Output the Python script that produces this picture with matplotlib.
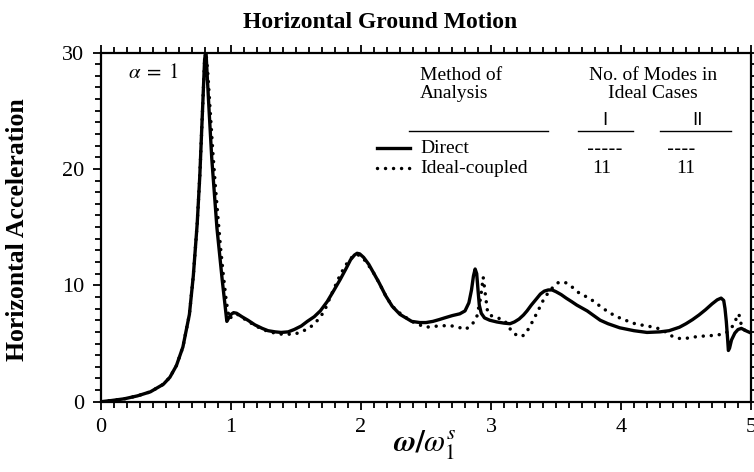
import matplotlib
matplotlib.use("Agg")
import matplotlib.pyplot as plt
from matplotlib.lines import Line2D
from matplotlib.ticker import MultipleLocator

plt.rcParams['font.family'] = ['Liberation Serif', 'DejaVu Serif']
plt.rcParams['mathtext.fontset'] = 'stix'

# Frequency ratio and acceleration response, direct analysis
freq_direct = [0.0, 0.08, 0.18, 0.28, 0.38, 0.48, 0.53, 0.58, 0.63, 0.68, 0.71, 0.74,
               0.76, 0.78, 0.797, 0.807, 0.817, 0.832, 0.852, 0.872, 0.892, 0.913,
               0.933, 0.953, 0.968, 0.983, 1.0, 1.02, 1.043, 1.084, 1.13, 1.184,
               1.24, 1.285, 1.34, 1.385, 1.44, 1.486, 1.54, 1.587, 1.64, 1.687,
               1.74, 1.788, 1.84, 1.888, 1.92, 1.95, 1.97, 1.99, 2.02, 2.06, 2.09,
               2.14, 2.19, 2.24, 2.30, 2.39, 2.452, 2.5, 2.553, 2.6, 2.643, 2.703,
               2.76, 2.80, 2.83, 2.85, 2.865, 2.878, 2.89, 2.90, 2.91, 2.925, 2.95,
               2.99, 3.045, 3.1, 3.146, 3.18, 3.216, 3.25, 3.277, 3.31, 3.347, 3.38,
               3.41, 3.44, 3.47, 3.50, 3.54, 3.578, 3.62, 3.66, 3.70, 3.74, 3.79,
               3.84, 3.9, 3.99, 4.10, 4.20, 4.30, 4.37, 4.45, 4.5, 4.55, 4.6, 4.65,
               4.7, 4.74, 4.77, 4.79, 4.80, 4.81, 4.82, 4.826, 4.835, 4.85, 4.876,
               4.9, 4.926, 4.96, 5.0]
acc_direct = [0.0, 0.1, 0.25, 0.5, 0.85, 1.5, 2.1, 3.1, 4.7, 7.5, 10.8, 15.3,
              19.4, 24.8, 29.4, 30.2, 28.0, 24.9, 20.9, 17.9, 14.9, 12.6,
              10.4, 8.4, 6.9, 7.2, 7.5, 7.65, 7.6, 7.3, 7.0, 6.6,
              6.3, 6.1, 6.0, 5.95, 6.0, 6.2, 6.5, 6.9, 7.3, 7.8,
              8.6, 9.5, 10.5, 11.5, 12.2, 12.6, 12.75, 12.7, 12.4, 11.8, 11.2,
              10.2, 9.1, 8.2, 7.5, 6.9, 6.8, 6.8, 6.9, 7.05, 7.2, 7.4,
              7.55, 7.8, 8.5, 9.6, 10.8, 11.4, 11.0, 9.6, 8.3, 7.6, 7.2,
              7.0, 6.85, 6.75, 6.7, 6.85, 7.1, 7.45, 7.8, 8.3, 8.8, 9.25,
              9.5, 9.6, 9.6, 9.45, 9.2, 8.9, 8.6, 8.3, 8.05, 7.8, 7.4,
              7.0, 6.7, 6.35, 6.1, 5.95, 6.0, 6.1, 6.4, 6.7, 7.05, 7.45, 7.9,
              8.4, 8.75, 8.9, 8.7, 8.0, 6.9, 5.4, 4.4, 4.6, 5.3, 5.9,
              6.2, 6.3, 6.1, 5.9]

# Ideal-coupled analysis
freq_ideal = [0.0, 0.08, 0.18, 0.28, 0.38, 0.48, 0.53, 0.58, 0.63, 0.68, 0.71, 0.74,
              0.76, 0.78, 0.797, 0.807, 0.82, 0.84, 0.86, 0.88, 0.90, 0.92, 0.94,
              0.96, 0.975, 0.99, 1.01, 1.05, 1.09, 1.19, 1.29, 1.39, 1.49, 1.56,
              1.61, 1.65, 1.69, 1.73, 1.76, 1.80, 1.84, 1.88, 1.92, 1.95, 1.98,
              2.01, 2.04, 2.09, 2.14, 2.19, 2.24, 2.30, 2.35, 2.39, 2.45, 2.50,
              2.59, 2.68, 2.75, 2.80, 2.85, 2.89, 2.92, 2.94, 2.96, 2.975, 3.0,
              3.04, 3.10, 3.13, 3.16, 3.20, 3.23, 3.26, 3.28, 3.32, 3.37, 3.41,
              3.45, 3.49, 3.52, 3.55, 3.58, 3.63, 3.67, 3.72, 3.78, 3.84, 3.89,
              3.95, 4.01, 4.07, 4.12, 4.18, 4.25, 4.30, 4.35, 4.39, 4.44, 4.48,
              4.53, 4.59, 4.65, 4.72, 4.78, 4.82, 4.85, 4.875, 4.895, 4.905,
              4.915, 4.925, 4.955, 5.0]
acc_ideal = [0.0, 0.1, 0.25, 0.5, 0.85, 1.5, 2.1, 3.1, 4.7, 7.5, 10.8, 15.3,
             19.4, 24.8, 29.4, 30.0, 28.5, 25.0, 21.5, 18.5, 15.8, 13.2, 11.0,
             9.0, 7.8, 7.1, 7.4, 7.5, 7.2, 6.5, 6.0, 5.8, 5.8, 6.1,
             6.4, 6.8, 7.3, 8.1, 8.9, 9.9, 10.9, 11.7, 12.3, 12.6, 12.6,
             12.4, 12.0, 11.2, 10.2, 9.1, 8.2, 7.6, 7.2, 6.9, 6.6, 6.4,
             6.5, 6.55, 6.4, 6.2, 6.55, 7.25, 8.9, 10.7, 8.9, 7.6, 7.4,
             7.25, 7.0, 6.6, 6.0, 5.7, 5.6, 5.75, 6.1, 6.9, 8.0, 8.9,
             9.5, 10.0, 10.25, 10.3, 10.2, 9.8, 9.4, 9.1, 8.7, 8.2, 7.8,
             7.4, 7.1, 6.85, 6.65, 6.55, 6.4, 6.25, 5.95, 5.65, 5.45, 5.4,
             5.5, 5.6, 5.65, 5.7, 5.8, 6.0, 6.35, 6.8, 7.4, 7.55,
             7.2, 6.6, 6.1, 5.9]

x_ticks = [0, 1, 2, 3, 4, 5]
y_ticks = [0, 10, 20, 30]

DOTTED = (0, (0.01, 2.3))

fig = plt.figure(figsize=(7.54, 4.72), dpi=100)
ax = fig.add_axes([101 / 754, 1 - 401.7 / 472, 650 / 754, 349.2 / 472])

ax.plot(freq_direct, acc_direct, color='black', lw=2.4, solid_joinstyle='round',
        solid_capstyle='round', zorder=3)
ax.plot(freq_ideal, acc_ideal, color='black', lw=2.5, linestyle=DOTTED,
        dash_capstyle='round', zorder=2)

ax.set_xlim(0, 5)
ax.set_ylim(0, 30)
ax.set_xticks(x_ticks)
ax.set_yticks(y_ticks)
ax.xaxis.set_minor_locator(MultipleLocator(0.1))
ax.yaxis.set_minor_locator(MultipleLocator(1))
ax.tick_params(which='both', direction='out', top=True, right=True, width=1.3,
               labelsize=16, pad=6)
ax.tick_params(which='major', length=6)
ax.tick_params(which='minor', length=4)
for s in ax.spines.values():
    s.set_linewidth(1.6)

fig.text(380 / 754, 1 - 22 / 472, 'Horizontal Ground Motion', ha='center', va='center',
         fontsize=17, fontweight='bold')
fig.text(18 / 754, 1 - 230 / 472, 'Horizontal Acceleration', ha='center', va='center',
         rotation=90, fontsize=18.5, fontweight='bold')
fig.text(425 / 754, 1 - 445 / 472, r'$\boldsymbol{\omega/\omega_1^s}$', ha='center',
         va='center', fontsize=22)

ax.text(0.042, 0.941, r'$\alpha\;=\;1$', transform=ax.transAxes, fontsize=15,
        ha='left', va='center')

# Legend laid out as a small table
tf = ax.transAxes
fs = 14
ax.text(0.491, 0.935, 'Method of', transform=tf, fontsize=fs, ha='left', va='center')
ax.text(0.491, 0.884, 'Analysis', transform=tf, fontsize=fs, ha='left', va='center')
ax.text(0.849, 0.935, 'No. of Modes in', transform=tf, fontsize=fs, ha='center', va='center')
ax.text(0.849, 0.884, 'Ideal Cases', transform=tf, fontsize=fs, ha='center', va='center')
ax.text(0.775, 0.808, 'I', transform=tf, fontsize=13, ha='center', va='center',
        family='DejaVu Sans')
ax.text(0.917, 0.808, 'II', transform=tf, fontsize=13, ha='center', va='center',
        family='DejaVu Sans')
for x0, x1 in [(0.474, 0.688), (0.734, 0.818), (0.86, 0.969)]:
    ax.add_line(Line2D([x0, x1], [0.775, 0.775], transform=tf, color='black', lw=1.0))
ax.add_line(Line2D([0.425, 0.475], [0.726, 0.726], transform=tf, color='black', lw=2.4))
ax.add_line(Line2D([0.425, 0.475], [0.669, 0.669], transform=tf, color='black', lw=2.5,
                   linestyle=DOTTED, dash_capstyle='round'))
ax.text(0.491, 0.726, 'Direct', transform=tf, fontsize=fs, ha='left', va='center')
ax.text(0.491, 0.669, 'Ideal-coupled', transform=tf, fontsize=fs, ha='left', va='center')
ax.text(0.775, 0.722, '-----', transform=tf, fontsize=fs, ha='center', va='center',
        family='DejaVu Sans')
ax.text(0.892, 0.722, '----', transform=tf, fontsize=fs, ha='center', va='center',
        family='DejaVu Sans')
ax.text(0.771, 0.669, '11', transform=tf, fontsize=fs, ha='center', va='center')
ax.text(0.900, 0.669, '11', transform=tf, fontsize=fs, ha='center', va='center')

fig.savefig('out.png', dpi=100)
